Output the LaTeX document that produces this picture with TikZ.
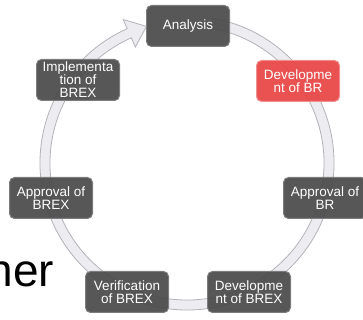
\documentclass[tikz,border=0pt]{standalone}
\usepackage{fontspec}
\setmainfont{Liberation Sans}
\usepackage{tikz}
\definecolor{StageGray}{HTML}{4A4A4A}
\definecolor{StageEdge}{HTML}{7C7C7C}
\definecolor{StageRed}{HTML}{E84545}
\definecolor{RingFill}{HTML}{EDEDF1}
\definecolor{RingEdge}{HTML}{B2B2B8}

\tikzset{
  stage/.style={draw=StageEdge, fill=StageGray, fill opacity=0.93, text opacity=1,
    rounded corners=5pt, text=white, line width=1pt,
    minimum width=83pt, minimum height=41pt, inner sep=1pt, align=center,
    font=\fontsize{13.5}{13}\selectfont},
  current/.style={stage, draw=StageRed!60!white, fill=StageRed}
}

\begin{document}
\begin{tikzpicture}[x=1pt, y=1pt]
    \useasboundingbox (0,0) rectangle (363,320);
    \coordinate (hub) at (187,157);

    % ring arrow, tail hidden behind Analysis
    \filldraw[fill=RingFill, draw=RingEdge, line width=0.8pt, shift={(hub)}]
        (80:147) arc (80:-246:147) -- (-246:157) -- (-253.5:142.5)
        -- (-246:127) -- (-246:137) arc (-246:80:137) -- cycle;

    \node[anchor=base west, inner sep=0pt, font=\fontsize{46}{46}\selectfont]
        (title) at (-12.6,33) {her};

    \node[stage] (analysis) at (188,294) {Analysis};
    \node[current] (devbr) at (298,239) {Developme\\nt of BR};
    \node[stage] (apprbr) at (325,122) {Approval of\\BR};
    \node[stage] (devbrex) at (249,28) {Developme\\nt of BREX};
    \node[stage] (verbrex) at (127,28) {Verification\\of BREX};
    \node[stage] (apprbrex) at (51,122) {Approval of\\BREX};
    \node[stage] (implbrex) at (78,240) {Implementa\\tion of\\BREX};
\end{tikzpicture}
\end{document}
